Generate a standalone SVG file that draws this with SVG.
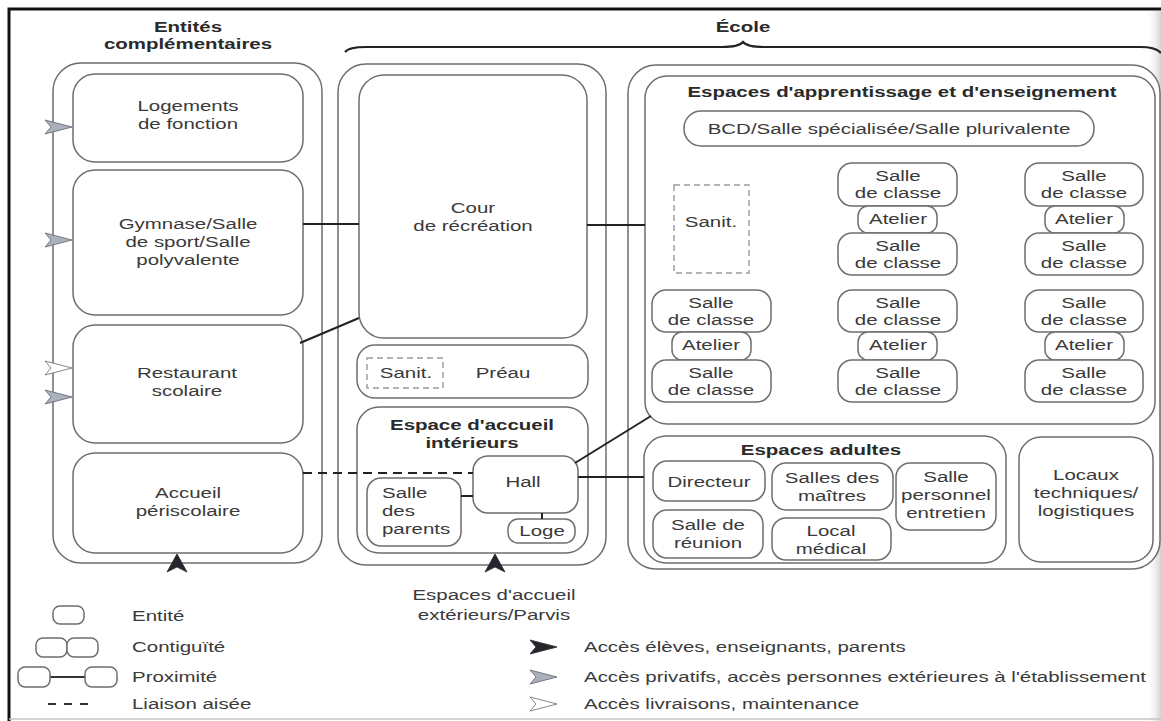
<svg xmlns="http://www.w3.org/2000/svg" width="1161" height="721" viewBox="0 0 1161 721">
<defs>
<style>
.box{fill:#fff;stroke:#6e6e6e;stroke-width:1.5}
.san{fill:none;stroke:#9a9a9a;stroke-width:1.4;stroke-dasharray:6 4}
.t{font-family:"Liberation Sans",Arial,sans-serif;font-size:15.5px;fill:#3a3a3a;text-anchor:middle}
.b{font-weight:bold;fill:#2a2a2a}
.s{text-anchor:start}
.ln{stroke:#222;stroke-width:2;fill:none}
.dash{stroke:#222;stroke-width:2;fill:none;stroke-dasharray:9 6}
.a-dark{fill:#23262b;stroke:#23262b;stroke-width:0.8}
.a-grey{fill:#aab0bc;stroke:#6a6f78;stroke-width:0.9}
.a-white{fill:#fff;stroke:#777;stroke-width:0.9}
</style>
<!-- notched arrowheads, tip at origin -->
<path id="arrR" d="M0,0 L-27,-7 L-21,0 L-27,7 Z"/>
<path id="arrU" d="M0,0 L10,18 L0,13 L-10,18 Z"/>
<linearGradient id="edge" x1="0" y1="0" x2="1" y2="0">
<stop offset="0" stop-color="#fff" stop-opacity="0"/>
<stop offset="1" stop-color="#c8c8c8" stop-opacity="0.8"/>
</linearGradient>
</defs>

<rect width="1161" height="721" fill="#fff"/>
<rect x="1146" y="11" width="15" height="710" fill="url(#edge)"/>
<path d="M9,721 V9 H1161" fill="none" stroke="#111" stroke-width="3"/>
<line x1="9" y1="719" x2="1161" y2="719" stroke="#c4c4c4" stroke-width="1.5"/>

<!-- headings -->
<g id="heading-entites">
<text class="t b" transform="matrix(1.32 0 0 1 188 32)"><tspan x="0">Entités</tspan><tspan x="0" dy="17">complémentaires</tspan></text>
</g>
<g id="heading-ecole">
<text class="t b" transform="matrix(1.32 0 0 1 743 32)">École</text>
<path d="M345,52 Q349,47 366,47 L722,47 Q739,47 743,42 Q747,47 764,47 L1140,47 Q1156,47 1161,53" fill="none" stroke="#222" stroke-width="2.2"/>
</g>

<!-- containers -->
<g id="col-complementaires"><rect class="box" x="53" y="63" width="269" height="500" rx="28"/></g>
<g id="col-ecole-1"><rect class="box" x="338" y="64" width="268" height="501" rx="28"/></g>
<g id="col-ecole-2"><rect class="box" x="628" y="65" width="532" height="504" rx="28"/></g>

<!-- left column -->
<g id="logements">
<rect class="box" x="73" y="74" width="230" height="88" rx="22"/>
<text class="t" transform="matrix(1.32 0 0 1 188 111)"><tspan x="0">Logements</tspan><tspan x="0" dy="18">de fonction</tspan></text>
</g>
<g id="gymnase">
<rect class="box" x="73" y="170" width="230" height="145" rx="22"/>
<text class="t" transform="matrix(1.32 0 0 1 188 229)"><tspan x="0">Gymnase/Salle</tspan><tspan x="0" dy="18">de sport/Salle</tspan><tspan x="0" dy="18">polyvalente</tspan></text>
</g>
<g id="restaurant">
<rect class="box" x="73" y="325" width="230" height="118" rx="22"/>
<text class="t" transform="matrix(1.32 0 0 1 187 378)"><tspan x="0">Restaurant</tspan><tspan x="0" dy="18">scolaire</tspan></text>
</g>
<g id="periscolaire">
<rect class="box" x="73" y="453" width="230" height="100" rx="22"/>
<text class="t" transform="matrix(1.32 0 0 1 188 498)"><tspan x="0">Accueil</tspan><tspan x="0" dy="18">périscolaire</tspan></text>
</g>

<!-- middle column -->
<g id="cour">
<rect class="box" x="359" y="75" width="228" height="263" rx="25"/>
<text class="t" transform="matrix(1.32 0 0 1 473 213)"><tspan x="0">Cour</tspan><tspan x="0" dy="18">de récréation</tspan></text>
</g>
<g id="preau">
<rect class="box" x="357" y="345" width="231" height="53" rx="18"/>
<rect class="san" x="367" y="358" width="76" height="30"/>
<text class="t" transform="matrix(1.32 0 0 1 406 378)">Sanit.</text>
<text class="t" transform="matrix(1.32 0 0 1 503 378)">Préau</text>
</g>
<g id="accueil-interieur">
<rect class="box" x="357" y="407" width="231" height="146" rx="22"/>
<text class="t b" transform="matrix(1.32 0 0 1 472 430)"><tspan x="0">Espace d'accueil</tspan><tspan x="0" dy="18">intérieurs</tspan></text>
</g>
<g id="hall">
<rect class="box" x="473" y="456" width="105" height="57" rx="15"/>
<text class="t" transform="matrix(1.32 0 0 1 523 487)">Hall</text>
</g>
<g id="salle-parents">
<rect class="box" x="367" y="478" width="94" height="68" rx="14"/>
<text class="t s" transform="matrix(1.32 0 0 1 382 498)"><tspan x="0">Salle</tspan><tspan x="0" dy="18">des</tspan><tspan x="0" dy="18">parents</tspan></text>
</g>
<g id="loge">
<rect class="box" x="508" y="519" width="67" height="24" rx="10"/>
<text class="t" transform="matrix(1.32 0 0 1 542 536)">Loge</text>
</g>

<!-- learning and teaching spaces -->
<g id="apprentissage">
<rect class="box" x="645" y="76" width="510" height="348" rx="22"/>
<text class="t b" transform="matrix(1.32 0 0 1 902 97)">Espaces d'apprentissage et d'enseignement</text>
</g>
<g id="bcd">
<rect class="box" x="684" y="111" width="410" height="35" rx="17"/>
<text class="t" transform="matrix(1.32 0 0 1 889 134)">BCD/Salle spécialisée/Salle plurivalente</text>
</g>
<g id="sanit-classes">
<rect class="san" x="674" y="185" width="75" height="88"/>
<text class="t" transform="matrix(1.32 0 0 1 711 227)">Sanit.</text>
</g>

<g id="classes-b1">
<rect class="box" x="838" y="163" width="119" height="43" rx="14"/>
<text class="t" transform="matrix(1.32 0 0 1 898 181)"><tspan x="0">Salle</tspan><tspan x="0" dy="17">de classe</tspan></text>
<rect class="box" x="858" y="206" width="79" height="27" rx="10"/>
<text class="t" transform="matrix(1.32 0 0 1 898 224)">Atelier</text>
<rect class="box" x="838" y="233" width="119" height="42" rx="14"/>
<text class="t" transform="matrix(1.32 0 0 1 898 251)"><tspan x="0">Salle</tspan><tspan x="0" dy="17">de classe</tspan></text>
</g>
<g id="classes-c1">
<rect class="box" x="1025" y="163" width="118" height="43" rx="14"/>
<text class="t" transform="matrix(1.32 0 0 1 1084 181)"><tspan x="0">Salle</tspan><tspan x="0" dy="17">de classe</tspan></text>
<rect class="box" x="1045" y="206" width="79" height="27" rx="10"/>
<text class="t" transform="matrix(1.32 0 0 1 1084 224)">Atelier</text>
<rect class="box" x="1025" y="233" width="118" height="42" rx="14"/>
<text class="t" transform="matrix(1.32 0 0 1 1084 251)"><tspan x="0">Salle</tspan><tspan x="0" dy="17">de classe</tspan></text>
</g>
<g id="classes-a2">
<rect class="box" x="652" y="290" width="119" height="42" rx="14"/>
<text class="t" transform="matrix(1.32 0 0 1 711 308)"><tspan x="0">Salle</tspan><tspan x="0" dy="17">de classe</tspan></text>
<rect class="box" x="672" y="332" width="79" height="28" rx="10"/>
<text class="t" transform="matrix(1.32 0 0 1 711 350)">Atelier</text>
<rect class="box" x="652" y="360" width="119" height="42" rx="14"/>
<text class="t" transform="matrix(1.32 0 0 1 711 378)"><tspan x="0">Salle</tspan><tspan x="0" dy="17">de classe</tspan></text>
</g>
<g id="classes-b2">
<rect class="box" x="838" y="290" width="119" height="42" rx="14"/>
<text class="t" transform="matrix(1.32 0 0 1 898 308)"><tspan x="0">Salle</tspan><tspan x="0" dy="17">de classe</tspan></text>
<rect class="box" x="858" y="332" width="79" height="28" rx="10"/>
<text class="t" transform="matrix(1.32 0 0 1 898 350)">Atelier</text>
<rect class="box" x="838" y="360" width="119" height="42" rx="14"/>
<text class="t" transform="matrix(1.32 0 0 1 898 378)"><tspan x="0">Salle</tspan><tspan x="0" dy="17">de classe</tspan></text>
</g>
<g id="classes-c2">
<rect class="box" x="1025" y="290" width="118" height="42" rx="14"/>
<text class="t" transform="matrix(1.32 0 0 1 1084 308)"><tspan x="0">Salle</tspan><tspan x="0" dy="17">de classe</tspan></text>
<rect class="box" x="1045" y="332" width="79" height="28" rx="10"/>
<text class="t" transform="matrix(1.32 0 0 1 1084 350)">Atelier</text>
<rect class="box" x="1025" y="360" width="118" height="42" rx="14"/>
<text class="t" transform="matrix(1.32 0 0 1 1084 378)"><tspan x="0">Salle</tspan><tspan x="0" dy="17">de classe</tspan></text>
</g>

<!-- adult spaces -->
<g id="adultes">
<rect class="box" x="644" y="436" width="362" height="127" rx="22"/>
<text class="t b" transform="matrix(1.32 0 0 1 821 455)">Espaces adultes</text>
</g>
<g id="directeur">
<rect class="box" x="653" y="461" width="112" height="40" rx="14"/>
<text class="t" transform="matrix(1.32 0 0 1 709 487)">Directeur</text>
</g>
<g id="maitres">
<rect class="box" x="772" y="463" width="121" height="47" rx="14"/>
<text class="t" transform="matrix(1.32 0 0 1 832 483)"><tspan x="0">Salles des</tspan><tspan x="0" dy="18">maîtres</tspan></text>
</g>
<g id="entretien">
<rect class="box" x="896" y="463" width="100" height="67" rx="14"/>
<text class="t" transform="matrix(1.32 0 0 1 946 482)"><tspan x="0">Salle</tspan><tspan x="0" dy="18">personnel</tspan><tspan x="0" dy="18">entretien</tspan></text>
</g>
<g id="reunion">
<rect class="box" x="653" y="510" width="110" height="48" rx="14"/>
<text class="t" transform="matrix(1.32 0 0 1 708 530)"><tspan x="0">Salle de</tspan><tspan x="0" dy="18">réunion</tspan></text>
</g>
<g id="medical">
<rect class="box" x="772" y="518" width="119" height="42" rx="14"/>
<text class="t" transform="matrix(1.32 0 0 1 831 536)"><tspan x="0">Local</tspan><tspan x="0" dy="18">médical</tspan></text>
</g>
<g id="locaux">
<rect class="box" x="1019" y="437" width="134" height="125" rx="22"/>
<text class="t" transform="matrix(1.32 0 0 1 1086 480)"><tspan x="0">Locaux</tspan><tspan x="0" dy="18">techniques/</tspan><tspan x="0" dy="18">logistiques</tspan></text>
</g>

<!-- connectors, drawn over the containers they cross -->
<g id="connectors">
<path class="ln" d="M303,224 H359"/>
<path class="ln" d="M300,343 L359,318"/>
<path class="ln" d="M587,225 H645"/>
<path class="dash" d="M303,473 H473"/>
<path class="ln" d="M461,496 H473"/>
<path class="ln" d="M542,513 V519"/>
<path class="ln" d="M575,463 L651,416"/>
<path class="ln" d="M578,477 H644"/>
</g>

<!-- access points -->
<g id="access">
<use href="#arrR" class="a-grey" x="72" y="127"/>
<use href="#arrR" class="a-grey" x="72" y="240"/>
<use href="#arrR" class="a-white" x="72" y="368"/>
<use href="#arrR" class="a-grey" x="72" y="397"/>
<use href="#arrU" class="a-dark" x="177" y="554"/>
<use href="#arrU" class="a-dark" x="495" y="554"/>
</g>
<g id="parvis">
<text class="t" transform="matrix(1.32 0 0 1 494 600)"><tspan x="0">Espaces d'accueil</tspan><tspan x="0" dy="20">extérieurs/Parvis</tspan></text>
</g>

<!-- legend -->
<g id="legend">
<rect class="box" x="53" y="606" width="31" height="18" rx="7"/>
<text class="t s" transform="matrix(1.32 0 0 1 132 621)">Entité</text>
<rect class="box" x="36" y="638" width="31" height="19" rx="7"/>
<rect class="box" x="67" y="638" width="31" height="19" rx="7"/>
<text class="t s" transform="matrix(1.32 0 0 1 132 652)">Contiguïté</text>
<line x1="50" y1="677" x2="85" y2="677" stroke="#333" stroke-width="1.8"/>
<rect class="box" x="18" y="667" width="32" height="20" rx="7"/>
<rect class="box" x="85" y="667" width="32" height="20" rx="7"/>
<text class="t s" transform="matrix(1.32 0 0 1 132 682)">Proximité</text>
<path d="M48,704 H88" stroke="#333" stroke-width="2.2" stroke-dasharray="8 8"/>
<text class="t s" transform="matrix(1.32 0 0 1 132 709)">Liaison aisée</text>
<use href="#arrR" class="a-dark" x="557" y="647"/>
<text class="t s" transform="matrix(1.32 0 0 1 584 652)">Accès élèves, enseignants, parents</text>
<use href="#arrR" class="a-grey" x="557" y="677"/>
<text class="t s" transform="matrix(1.32 0 0 1 584 682)">Accès privatifs, accès personnes extérieures à l'établissement</text>
<use href="#arrR" class="a-white" x="557" y="704"/>
<text class="t s" transform="matrix(1.32 0 0 1 584 709)">Accès livraisons, maintenance</text>
</g>
</svg>
